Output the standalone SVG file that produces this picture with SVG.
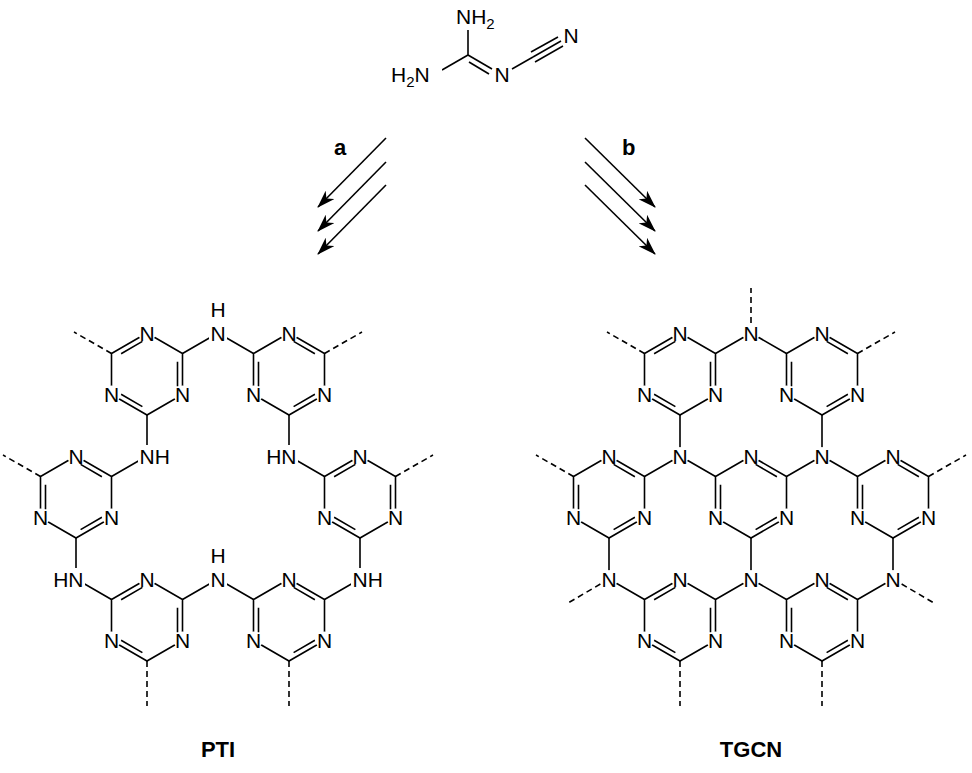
<svg xmlns="http://www.w3.org/2000/svg" width="972" height="773" viewBox="0 0 972 773">
<style>
line,path{stroke:#000;stroke-width:1.6;fill:none}
.d{stroke-dasharray:6 4}
text{font-family:"Liberation Sans",Arial,sans-serif;font-size:21px;fill:#000}
.c{text-anchor:middle}
.bold{font-weight:bold;font-size:22px}
.w{fill:#fff;stroke:none}
</style>
<defs>
<marker id="ah" markerUnits="userSpaceOnUse" markerWidth="18" markerHeight="12" refX="17" refY="6" orient="auto">
<path d="M0,0 L18,6 L0,12 L5,6 z" style="fill:#000;stroke:none"/>
</marker>
</defs>
<rect width="972" height="773" fill="#fff"/>

<g id="connectors">
<line x1="468" y1="55" x2="468" y2="30"/>
<line x1="468" y1="55" x2="442" y2="70"/>
<line x1="468" y1="55" x2="492" y2="69"/>
<line x1="469" y1="62" x2="489" y2="74"/>
<line x1="512" y1="69" x2="533" y2="57"/>
<line x1="533" y1="57" x2="561" y2="41"/>
<line x1="531" y1="52" x2="558" y2="37"/>
<line x1="535" y1="62" x2="563" y2="46"/>
<line x1="386" y1="138" x2="318" y2="207" marker-end="url(#ah)"/>
<line x1="386" y1="162" x2="318" y2="231" marker-end="url(#ah)"/>
<line x1="386" y1="185" x2="318" y2="254" marker-end="url(#ah)"/>
<line x1="585" y1="138" x2="655" y2="207" marker-end="url(#ah)"/>
<line x1="585" y1="162" x2="655" y2="231" marker-end="url(#ah)"/>
<line x1="585" y1="185" x2="655" y2="254" marker-end="url(#ah)"/>
<path d="M182.5,353.5 L218,333 L253.5,353.5"/>
<path d="M147,415 L147,456 L111.5,476.5"/>
<path d="M289,415 L289,456 L324.5,476.5"/>
<path d="M76,538 L76,579 L111.5,599.5"/>
<path d="M182.5,599.5 L218,579 L253.5,599.5"/>
<path d="M360,538 L360,579 L324.5,599.5"/>
<line class="d" x1="111.5" y1="353.5" x2="74" y2="332"/>
<line class="d" x1="324.5" y1="353.5" x2="362" y2="332"/>
<line class="d" x1="40.5" y1="476.5" x2="3" y2="455"/>
<line class="d" x1="395.5" y1="476.5" x2="433" y2="455"/>
<line class="d" x1="147" y1="661" x2="147" y2="706"/>
<line class="d" x1="289" y1="661" x2="289" y2="706"/>
<path d="M715.5,353.5 L751,333 L786.5,353.5"/>
<path d="M680,415 L680,456 L644.5,476.5 M680,456 L715.5,476.5"/>
<path d="M822,415 L822,456 L786.5,476.5 M822,456 L857.5,476.5"/>
<path d="M609,538 L609,579 L644.5,599.5"/>
<path d="M751,538 L751,579 L715.5,599.5 M751,579 L786.5,599.5"/>
<path d="M893,538 L893,579 L857.5,599.5"/>
<line class="d" x1="751" y1="333" x2="751" y2="288"/>
<line class="d" x1="609" y1="579" x2="568" y2="603"/>
<line class="d" x1="893" y1="579" x2="934" y2="603"/>
<line class="d" x1="644.5" y1="353.5" x2="607" y2="332"/>
<line class="d" x1="857.5" y1="353.5" x2="895" y2="332"/>
<line class="d" x1="573.5" y1="476.5" x2="536" y2="455"/>
<line class="d" x1="928.5" y1="476.5" x2="966" y2="455"/>
<line class="d" x1="680" y1="661" x2="680" y2="706"/>
<line class="d" x1="822" y1="661" x2="822" y2="706"/>
</g>

<g id="dicyandiamide">
<rect class="w" x="455" y="4" width="46" height="24"/>
<text x="456" y="24">NH<tspan font-size="15" dy="5">2</tspan></text>
<rect class="w" x="390" y="62" width="52" height="26"/>
<text x="391" y="82">H<tspan font-size="15" dy="5">2</tspan><tspan dy="-5">N</tspan></text>
<circle class="w" cx="502" cy="75" r="9"/>
<text class="c" x="502" y="82">N</text>
<circle class="w" cx="570" cy="36" r="9"/>
<text class="c" x="571" y="43">N</text>
</g>
<g id="label-a"><text class="bold" x="334" y="155">a</text></g>
<g id="label-b"><text class="bold" x="622" y="155">b</text></g>

<g id="PTI-R1" transform="translate(147,374)"><path d="M0,-41 L35.5,-20.5 L35.5,20.5 L0,41 L-35.5,20.5 L-35.5,-20.5 Z"/><path d="M-4.6,-32.6 L-25.9,-20.2 M30.5,-12.3 L30.5,12.3 M-25.9,20.2 L-4.6,32.6"/><circle class="w" cx="0" cy="-41" r="9"/><circle class="w" cx="35.5" cy="20.5" r="9"/><circle class="w" cx="-35.5" cy="20.5" r="9"/><text class="c" x="0" y="-33.5">N</text><text class="c" x="35.5" y="28">N</text><text class="c" x="-35.5" y="28">N</text></g>
<g id="PTI-R2" transform="translate(289,374)"><path d="M0,-41 L35.5,-20.5 L35.5,20.5 L0,41 L-35.5,20.5 L-35.5,-20.5 Z"/><path d="M4.6,-32.6 L25.9,-20.2 M-30.5,-12.3 L-30.5,12.3 M25.9,20.2 L4.6,32.6"/><circle class="w" cx="0" cy="-41" r="9"/><circle class="w" cx="35.5" cy="20.5" r="9"/><circle class="w" cx="-35.5" cy="20.5" r="9"/><text class="c" x="0" y="-33.5">N</text><text class="c" x="35.5" y="28">N</text><text class="c" x="-35.5" y="28">N</text></g>
<g id="PTI-R3" transform="translate(76,497)"><path d="M0,-41 L35.5,-20.5 L35.5,20.5 L0,41 L-35.5,20.5 L-35.5,-20.5 Z"/><path d="M4.6,-32.6 L25.9,-20.2 M-30.5,-12.3 L-30.5,12.3 M25.9,20.2 L4.6,32.6"/><circle class="w" cx="0" cy="-41" r="9"/><circle class="w" cx="35.5" cy="20.5" r="9"/><circle class="w" cx="-35.5" cy="20.5" r="9"/><text class="c" x="0" y="-33.5">N</text><text class="c" x="35.5" y="28">N</text><text class="c" x="-35.5" y="28">N</text></g>
<g id="PTI-R4" transform="translate(360,497)"><path d="M0,-41 L35.5,-20.5 L35.5,20.5 L0,41 L-35.5,20.5 L-35.5,-20.5 Z"/><path d="M-4.6,-32.6 L-25.9,-20.2 M30.5,-12.3 L30.5,12.3 M-25.9,20.2 L-4.6,32.6"/><circle class="w" cx="0" cy="-41" r="9"/><circle class="w" cx="35.5" cy="20.5" r="9"/><circle class="w" cx="-35.5" cy="20.5" r="9"/><text class="c" x="0" y="-33.5">N</text><text class="c" x="35.5" y="28">N</text><text class="c" x="-35.5" y="28">N</text></g>
<g id="PTI-R5" transform="translate(147,620)"><path d="M0,-41 L35.5,-20.5 L35.5,20.5 L0,41 L-35.5,20.5 L-35.5,-20.5 Z"/><path d="M-4.6,-32.6 L-25.9,-20.2 M30.5,-12.3 L30.5,12.3 M-25.9,20.2 L-4.6,32.6"/><circle class="w" cx="0" cy="-41" r="9"/><circle class="w" cx="35.5" cy="20.5" r="9"/><circle class="w" cx="-35.5" cy="20.5" r="9"/><text class="c" x="0" y="-33.5">N</text><text class="c" x="35.5" y="28">N</text><text class="c" x="-35.5" y="28">N</text></g>
<g id="PTI-R6" transform="translate(289,620)"><path d="M0,-41 L35.5,-20.5 L35.5,20.5 L0,41 L-35.5,20.5 L-35.5,-20.5 Z"/><path d="M4.6,-32.6 L25.9,-20.2 M-30.5,-12.3 L-30.5,12.3 M25.9,20.2 L4.6,32.6"/><circle class="w" cx="0" cy="-41" r="9"/><circle class="w" cx="35.5" cy="20.5" r="9"/><circle class="w" cx="-35.5" cy="20.5" r="9"/><text class="c" x="0" y="-33.5">N</text><text class="c" x="35.5" y="28">N</text><text class="c" x="-35.5" y="28">N</text></g>
<g id="PTI-NH1"><rect class="w" x="209" y="300" width="18" height="42"/><text class="c" x="218" y="317">H</text><text class="c" x="218" y="340.5">N</text></g>
<g id="PTI-NH2"><rect class="w" x="138" y="445" width="34" height="21"/><text x="139.5" y="463.5">NH</text></g>
<g id="PTI-NH3"><rect class="w" x="264" y="445" width="34" height="21"/><text text-anchor="end" x="296.5" y="463.5">HN</text></g>
<g id="PTI-NH4"><rect class="w" x="51" y="568" width="34" height="21"/><text text-anchor="end" x="83.5" y="586.5">HN</text></g>
<g id="PTI-NH5"><rect class="w" x="209" y="546" width="18" height="42"/><text class="c" x="218" y="563">H</text><text class="c" x="218" y="586.5">N</text></g>
<g id="PTI-NH6"><rect class="w" x="351" y="568" width="34" height="21"/><text x="352.5" y="586.5">NH</text></g>

<g id="TGCN-T1" transform="translate(680,374)"><path d="M0,-41 L35.5,-20.5 L35.5,20.5 L0,41 L-35.5,20.5 L-35.5,-20.5 Z"/><path d="M-4.6,-32.6 L-25.9,-20.2 M30.5,-12.3 L30.5,12.3 M-25.9,20.2 L-4.6,32.6"/><circle class="w" cx="0" cy="-41" r="9"/><circle class="w" cx="35.5" cy="20.5" r="9"/><circle class="w" cx="-35.5" cy="20.5" r="9"/><text class="c" x="0" y="-33.5">N</text><text class="c" x="35.5" y="28">N</text><text class="c" x="-35.5" y="28">N</text></g>
<g id="TGCN-T2" transform="translate(822,374)"><path d="M0,-41 L35.5,-20.5 L35.5,20.5 L0,41 L-35.5,20.5 L-35.5,-20.5 Z"/><path d="M4.6,-32.6 L25.9,-20.2 M-30.5,-12.3 L-30.5,12.3 M25.9,20.2 L4.6,32.6"/><circle class="w" cx="0" cy="-41" r="9"/><circle class="w" cx="35.5" cy="20.5" r="9"/><circle class="w" cx="-35.5" cy="20.5" r="9"/><text class="c" x="0" y="-33.5">N</text><text class="c" x="35.5" y="28">N</text><text class="c" x="-35.5" y="28">N</text></g>
<g id="TGCN-TL" transform="translate(609,497)"><path d="M0,-41 L35.5,-20.5 L35.5,20.5 L0,41 L-35.5,20.5 L-35.5,-20.5 Z"/><path d="M4.6,-32.6 L25.9,-20.2 M-30.5,-12.3 L-30.5,12.3 M25.9,20.2 L4.6,32.6"/><circle class="w" cx="0" cy="-41" r="9"/><circle class="w" cx="35.5" cy="20.5" r="9"/><circle class="w" cx="-35.5" cy="20.5" r="9"/><text class="c" x="0" y="-33.5">N</text><text class="c" x="35.5" y="28">N</text><text class="c" x="-35.5" y="28">N</text></g>
<g id="TGCN-T0" transform="translate(751,497)"><path d="M0,-41 L35.5,-20.5 L35.5,20.5 L0,41 L-35.5,20.5 L-35.5,-20.5 Z"/><path d="M4.6,-32.6 L25.9,-20.2 M-30.5,-12.3 L-30.5,12.3 M25.9,20.2 L4.6,32.6"/><circle class="w" cx="0" cy="-41" r="9"/><circle class="w" cx="35.5" cy="20.5" r="9"/><circle class="w" cx="-35.5" cy="20.5" r="9"/><text class="c" x="0" y="-33.5">N</text><text class="c" x="35.5" y="28">N</text><text class="c" x="-35.5" y="28">N</text></g>
<g id="TGCN-TR" transform="translate(893,497)"><path d="M0,-41 L35.5,-20.5 L35.5,20.5 L0,41 L-35.5,20.5 L-35.5,-20.5 Z"/><path d="M4.6,-32.6 L25.9,-20.2 M-30.5,-12.3 L-30.5,12.3 M25.9,20.2 L4.6,32.6"/><circle class="w" cx="0" cy="-41" r="9"/><circle class="w" cx="35.5" cy="20.5" r="9"/><circle class="w" cx="-35.5" cy="20.5" r="9"/><text class="c" x="0" y="-33.5">N</text><text class="c" x="35.5" y="28">N</text><text class="c" x="-35.5" y="28">N</text></g>
<g id="TGCN-BL" transform="translate(680,620)"><path d="M0,-41 L35.5,-20.5 L35.5,20.5 L0,41 L-35.5,20.5 L-35.5,-20.5 Z"/><path d="M-4.6,-32.6 L-25.9,-20.2 M30.5,-12.3 L30.5,12.3 M-25.9,20.2 L-4.6,32.6"/><circle class="w" cx="0" cy="-41" r="9"/><circle class="w" cx="35.5" cy="20.5" r="9"/><circle class="w" cx="-35.5" cy="20.5" r="9"/><text class="c" x="0" y="-33.5">N</text><text class="c" x="35.5" y="28">N</text><text class="c" x="-35.5" y="28">N</text></g>
<g id="TGCN-BR" transform="translate(822,620)"><path d="M0,-41 L35.5,-20.5 L35.5,20.5 L0,41 L-35.5,20.5 L-35.5,-20.5 Z"/><path d="M4.6,-32.6 L25.9,-20.2 M-30.5,-12.3 L-30.5,12.3 M25.9,20.2 L4.6,32.6"/><circle class="w" cx="0" cy="-41" r="9"/><circle class="w" cx="35.5" cy="20.5" r="9"/><circle class="w" cx="-35.5" cy="20.5" r="9"/><text class="c" x="0" y="-33.5">N</text><text class="c" x="35.5" y="28">N</text><text class="c" x="-35.5" y="28">N</text></g>
<g id="TGCN-Na"><circle class="w" cx="751" cy="333" r="9"/><text class="c" x="751" y="340.5">N</text></g>
<g id="TGCN-Nb"><circle class="w" cx="680" cy="456" r="9"/><text class="c" x="680" y="463.5">N</text></g>
<g id="TGCN-Nc"><circle class="w" cx="822" cy="456" r="9"/><text class="c" x="822" y="463.5">N</text></g>
<g id="TGCN-Nd"><circle class="w" cx="609" cy="579" r="9"/><text class="c" x="609" y="586.5">N</text></g>
<g id="TGCN-Ne"><circle class="w" cx="751" cy="579" r="9"/><text class="c" x="751" y="586.5">N</text></g>
<g id="TGCN-Nf"><circle class="w" cx="893" cy="579" r="9"/><text class="c" x="893" y="586.5">N</text></g>

<g id="title-PTI"><text class="bold c" x="218" y="757">PTI</text></g>
<g id="title-TGCN"><text class="bold c" x="751" y="757">TGCN</text></g>
</svg>
